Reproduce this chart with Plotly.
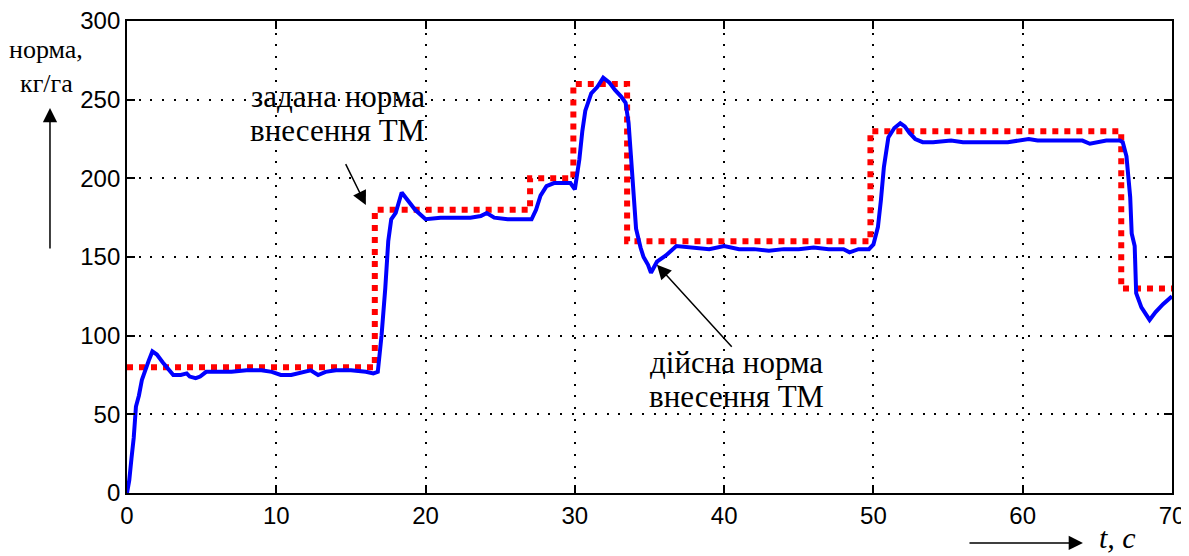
import plotly.graph_objects as go

# Set-point (задана норма) as step function
t_set = [0, 16.6, 27.0, 29.9, 33.5, 49.8, 66.6, 70]
v_set = [80, 180, 200, 260, 160, 230, 130, 130]

# Actual rate (дійсна норма)
t_act = [0, 0.15, 0.3, 0.45, 0.6, 0.8, 1.0, 1.2, 1.45, 1.7, 2.0, 2.4, 2.8, 3.1, 3.6, 4.0, 4.2, 4.6, 4.9, 5.3,
         6, 7, 8, 9, 9.7, 10.3, 11, 11.8, 12.3, 12.8, 13.3, 14, 15, 16, 16.5, 16.8, 17.05, 17.3, 17.5, 17.7,
         18.0, 18.4, 18.8, 19.3, 20.0, 21, 22, 23, 23.7, 24.1, 24.6, 25.5, 26.5, 27.1, 27.4, 27.7, 28.1, 28.6,
         29.2, 29.7, 30.0, 30.3, 30.5, 30.7, 31.1, 31.5, 31.9, 32.3, 32.7, 33.1, 33.4, 33.6, 33.75, 33.9, 34.1,
         34.4, 34.6, 34.9, 35.1, 35.5, 36.1, 36.8, 37.7, 39, 40, 41, 42, 43, 44, 45, 46, 47, 48, 48.4, 49, 49.7,
         50.0, 50.3, 50.5, 50.7, 51.0, 51.4, 51.8, 52.1, 52.4, 52.8, 53.3, 54, 55.2, 56, 57, 58, 59, 60.4, 61,
         62, 63, 64, 64.5, 65.6, 66.5, 66.7, 66.95, 67.2, 67.3, 67.5, 67.6, 67.95, 68.5, 68.9, 69.4, 70]
v_act = [0, 8, 22, 35, 55, 62, 72, 78, 84, 90, 88, 83, 78, 75, 75, 76, 74, 73, 74, 77,
         77, 77, 78, 78, 77, 75, 75, 77, 78, 75, 77, 78, 78, 77, 76, 77, 100, 130, 160, 174,
         178, 191, 186, 180, 174, 175, 175, 175, 176, 178, 175, 174, 174, 174, 180, 189, 195, 197,
         197, 197, 193, 212, 230, 243, 254, 258, 264, 261, 256, 252, 248, 235, 215, 192, 168,
         156, 150, 145, 140, 147, 151, 157, 156, 155, 157, 155, 155, 154, 155, 155, 156, 155, 155, 153, 155, 155,
         158, 169, 186, 207, 226, 232, 235, 233, 229, 225, 223, 223, 224, 223, 223, 223, 223, 225, 224,
         224, 224, 224, 222, 224, 224, 223, 214, 188, 165, 157, 127, 118, 110, 115, 120, 125]

x_ticks = [0, 10, 20, 30, 40, 50, 60, 70]
y_ticks = [0, 50, 100, 150, 200, 250, 300]

tick_font = dict(family="Liberation Sans", size=24, color="black")
serif = "Liberation Serif, DejaVu Serif, serif"

fig = go.Figure()
fig.add_trace(go.Scatter(x=t_set, y=v_set, mode="lines", line=dict(color="#ff0000", width=6, dash="6px,6px", shape="hv"),
                         hoverinfo="skip", showlegend=False))
fig.add_trace(go.Scatter(x=t_act, y=v_act, mode="lines", line=dict(color="#0000ff", width=4),
                         showlegend=False))

axis_common = dict(showline=True, linecolor="black", linewidth=1.8, mirror="ticks", ticks="inside",
                   ticklen=8, tickwidth=1.8, tickcolor="black", showgrid=True, gridcolor="black",
                   gridwidth=1.5, griddash="2px,9.7px", zeroline=False, tickfont=tick_font, automargin=False,
                   ticklabeloverflow="allow")

fig.update_xaxes(range=[0, 70], tickvals=x_ticks, ticktext=[str(v) for v in x_ticks], **axis_common)
fig.update_yaxes(range=[0, 300], tickvals=y_ticks, ticktext=[str(v) for v in y_ticks], **axis_common)

# white boxes behind the text labels (cover the grid)
fig.add_shape(type="rect", xref="paper", yref="paper", x0=0.0746, x1=0.333, y0=0.7097, y1=0.8856,
              fillcolor="white", line=dict(width=0), layer="between")
fig.add_shape(type="rect", xref="paper", yref="paper", x0=0.4526, x1=0.7014, y0=0.1716, y1=0.303,
              fillcolor="white", line=dict(width=0), layer="between")

def txt(x, y, s, size=31, italic=False):
    fig.add_annotation(x=x, y=y, xref="paper", yref="paper", text=("<i>%s</i>" % s) if italic else s,
                       showarrow=False, xanchor="center", yanchor="middle",
                       font=dict(family=serif, size=size, color="black"))

txt(0.2019, 0.841, "задана норма")
txt(0.2019, 0.769, "внесення ТМ")
txt(0.5837, 0.2775, "дійсна норма")
txt(0.5837, 0.2055, "внесення ТМ")
txt(-0.0775, 0.9386, "норма,", size=26)
txt(-0.0775, 0.8686, "кг/га", size=26)
txt(0.948, -0.0953, "t, c", size=30, italic=True)

arrow_style = dict(text="", showarrow=True, arrowhead=2, arrowsize=1.9, arrowwidth=1.5, arrowcolor="black")
# pointer arrows
fig.add_annotation(x=16.0, y=183, ax=14.6, ay=210, xref="x", yref="y", axref="x", ayref="y", **arrow_style)
fig.add_annotation(x=35.5, y=145, ax=40.6, ay=92, xref="x", yref="y", axref="x", ayref="y", **arrow_style)
# axis direction arrows
fig.add_annotation(x=-0.0737, y=0.8157, xref="paper", yref="paper", ax=0, ay=142, **arrow_style)
fig.add_annotation(x=0.9148, y=-0.1059, xref="paper", yref="paper", ax=-115, ay=0, **arrow_style)

# page body has an 8px margin: figure is 8px smaller and margins shifted accordingly
fig.update_layout(width=1181, height=548, margin=dict(l=119, r=17, t=13, b=63),
                  paper_bgcolor="white", plot_bgcolor="white")

fig.write_html("out.html")
